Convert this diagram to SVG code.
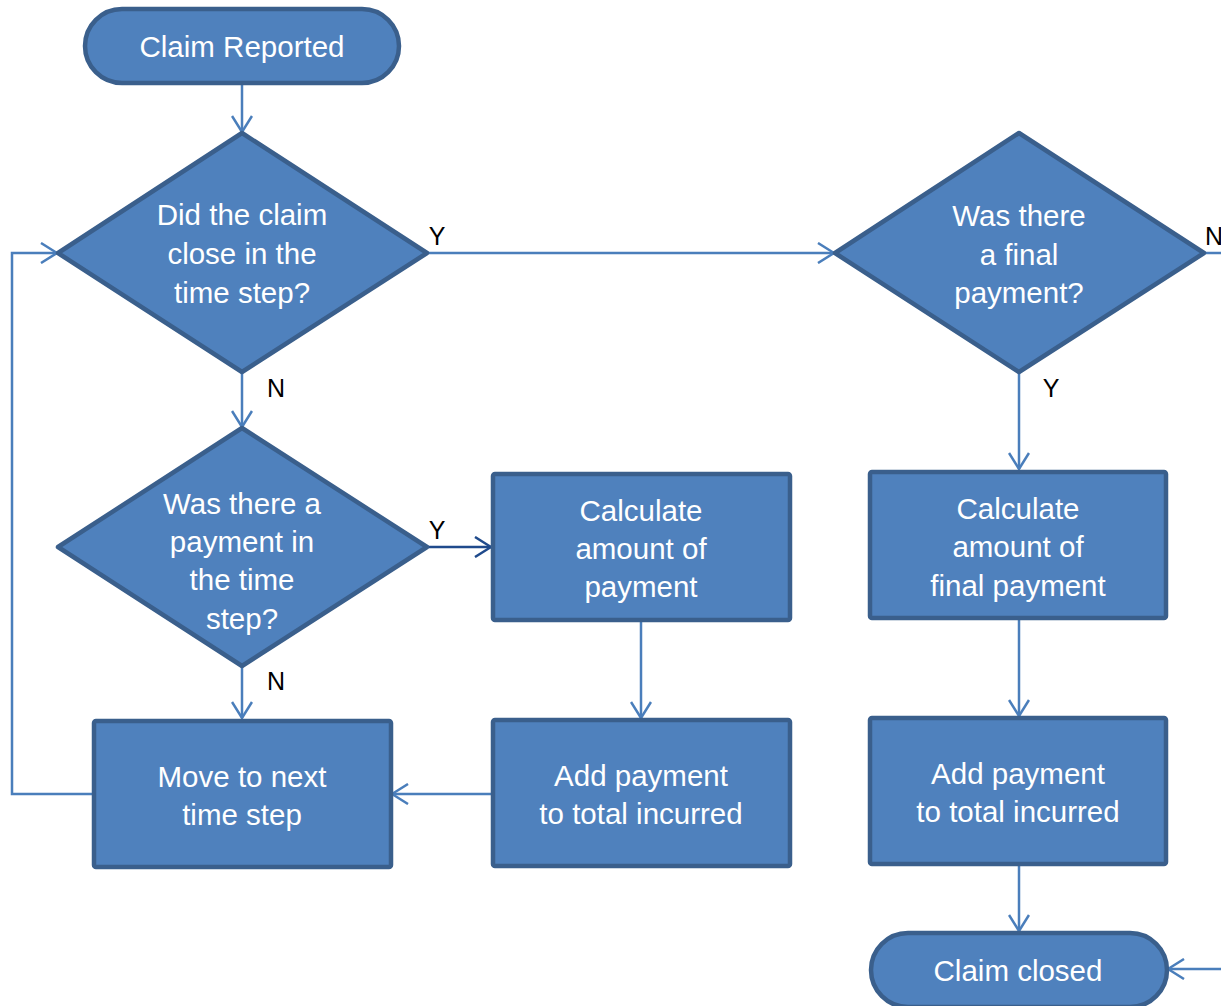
<svg xmlns="http://www.w3.org/2000/svg" width="1221" height="1006" viewBox="0 0 1221 1006">
  <style>
    .shape { fill: #4F81BD; stroke: #3A5F8C; stroke-width: 4.5; stroke-linejoin: round; }
    .label { font-family: "Liberation Sans", "Noto Sans", sans-serif; font-size: 29.5px; fill: #FFFFFF; text-anchor: middle; }
    .branch { font-family: "Liberation Sans", "Noto Sans", sans-serif; font-size: 25px; fill: #000000; text-anchor: middle; }
    .conn { fill: none; stroke: #4A7EBB; stroke-width: 2.5; marker-end: url(#arrow); }
    .conn-dark { fill: none; stroke: #1F4A8C; stroke-width: 2.5; marker-end: url(#arrow-dark); }
  </style>
  <defs>
    <marker id="arrow" viewBox="0 0 18 22" refX="17" refY="11" markerWidth="18" markerHeight="22" markerUnits="userSpaceOnUse" orient="auto">
      <path d="M1,1 L17,11 L1,21" fill="none" stroke="#4A7EBB" stroke-width="2.5"/>
    </marker>
    <marker id="arrow-dark" viewBox="0 0 18 22" refX="17" refY="11" markerWidth="18" markerHeight="22" markerUnits="userSpaceOnUse" orient="auto">
      <path d="M1,1 L17,11 L1,21" fill="none" stroke="#1F4A8C" stroke-width="2.5"/>
    </marker>
  </defs>

  <rect width="1221" height="1006" fill="#FFFFFF"/>

  <!-- connectors -->
  <g id="connectors">
    <path class="conn" d="M242,83 L242,132"/>
    <path class="conn" d="M427,253 L834,253"/>
    <path class="conn" d="M1204,253 L1221,253" style="marker-end:none"/>
    <path class="conn" d="M242,372 L242,427"/>
    <path class="conn-dark" d="M427,547 L491,547"/>
    <path class="conn" d="M242,666 L242,718"/>
    <path class="conn" d="M641,620 L641,718"/>
    <path class="conn" d="M493,794 L392,794"/>
    <path class="conn" d="M94,794 L12,794 L12,253 L57,253"/>
    <path class="conn" d="M1019,372 L1019,469"/>
    <path class="conn" d="M1019,618 L1019,716"/>
    <path class="conn" d="M1019,864 L1019,931"/>
    <path class="conn" d="M1221,969 L1168,969"/>
    <text class="branch" x="437" y="245">Y</text>
    <text class="branch" x="1214" y="245">N</text>
    <text class="branch" x="276" y="397">N</text>
    <text class="branch" x="437" y="539">Y</text>
    <text class="branch" x="276" y="690">N</text>
    <text class="branch" x="1051" y="397">Y</text>
  </g>

  <g id="claim-reported">
    <rect class="shape" x="85" y="9" width="314" height="74" rx="37"/>
    <text class="label" x="242" y="57">Claim Reported</text>
  </g>

  <g id="did-claim-close">
    <polygon class="shape" points="242,133 427,253 242,372 58,253"/>
    <text class="label" x="242" y="225">Did the claim</text>
    <text class="label" x="242" y="264">close in the</text>
    <text class="label" x="242" y="303">time step?</text>
  </g>

  <g id="final-payment">
    <polygon class="shape" points="1019,133 1204,253 1019,372 835,253"/>
    <text class="label" x="1019" y="226">Was there</text>
    <text class="label" x="1019" y="265">a final</text>
    <text class="label" x="1019" y="303">payment?</text>
  </g>

  <g id="payment-in-step">
    <polygon class="shape" points="242,428 427,547 242,666 58,547"/>
    <text class="label" x="242" y="514">Was there a</text>
    <text class="label" x="242" y="552">payment in</text>
    <text class="label" x="242" y="590">the time</text>
    <text class="label" x="242" y="629">step?</text>
  </g>

  <g id="calc-payment">
    <rect class="shape" x="493" y="474" width="297" height="146" rx="2"/>
    <text class="label" x="641" y="521">Calculate</text>
    <text class="label" x="641" y="559">amount of</text>
    <text class="label" x="641" y="597">payment</text>
  </g>

  <g id="add-payment">
    <rect class="shape" x="493" y="720" width="297" height="146" rx="2"/>
    <text class="label" x="641" y="786">Add payment</text>
    <text class="label" x="641" y="824">to total incurred</text>
  </g>

  <g id="next-step">
    <rect class="shape" x="94" y="721" width="297" height="146" rx="2"/>
    <text class="label" x="242" y="787">Move to next</text>
    <text class="label" x="242" y="825">time step</text>
  </g>

  <g id="calc-final-payment">
    <rect class="shape" x="870" y="472" width="296" height="146" rx="2"/>
    <text class="label" x="1018" y="519">Calculate</text>
    <text class="label" x="1018" y="557">amount of</text>
    <text class="label" x="1018" y="596">final payment</text>
  </g>

  <g id="add-final-payment">
    <rect class="shape" x="870" y="718" width="296" height="146" rx="2"/>
    <text class="label" x="1018" y="784">Add payment</text>
    <text class="label" x="1018" y="822">to total incurred</text>
  </g>

  <g id="claim-closed">
    <rect class="shape" x="871" y="933" width="296" height="74" rx="37"/>
    <text class="label" x="1018" y="981">Claim closed</text>
  </g>
</svg>
